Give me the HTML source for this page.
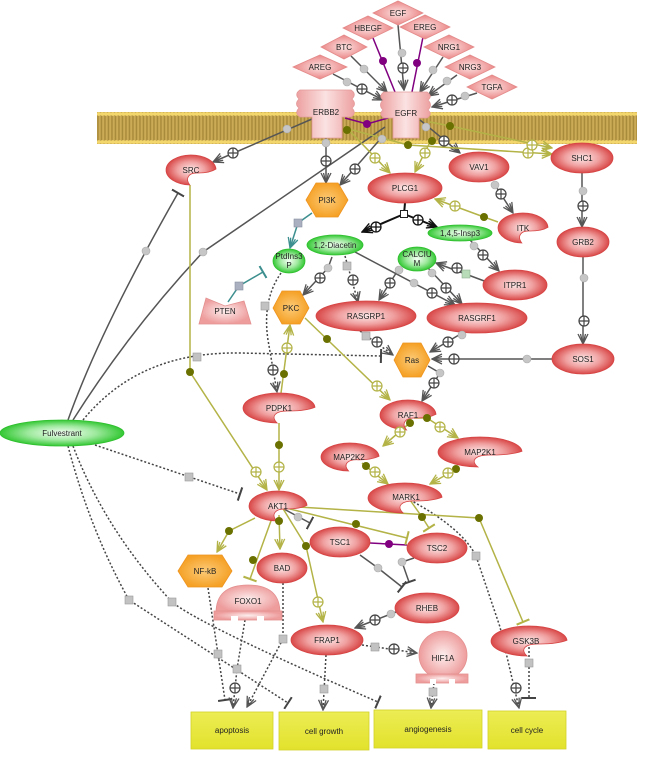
<!DOCTYPE html>
<html><head><meta charset="utf-8"><style>
html,body{margin:0;padding:0;background:#fff;}
svg{display:block;}
text{font-family:"Liberation Sans",sans-serif;font-size:8px;fill:#222;text-anchor:middle;}
</style></head><body>
<svg width="650" height="765" viewBox="0 0 650 765" xmlns="http://www.w3.org/2000/svg">
<defs>
<radialGradient id="rg"><stop offset="0" stop-color="#fde9e9"/><stop offset="0.55" stop-color="#f0a0a0"/><stop offset="1" stop-color="#d94848"/></radialGradient>
<radialGradient id="lp"><stop offset="0" stop-color="#fdeeee"/><stop offset="1" stop-color="#ee9c9c"/></radialGradient>
<radialGradient id="gg"><stop offset="0" stop-color="#f6fff6"/><stop offset="0.55" stop-color="#9ee99e"/><stop offset="1" stop-color="#34c834"/></radialGradient>
<radialGradient id="og"><stop offset="0" stop-color="#fccb78"/><stop offset="1" stop-color="#f5a126"/></radialGradient>
<radialGradient id="dg"><stop offset="0" stop-color="#fde4e4"/><stop offset="1" stop-color="#eb8787"/></radialGradient>
<linearGradient id="rc" x1="0" x2="1" y1="0" y2="0"><stop offset="0" stop-color="#eda0a0"/><stop offset="0.5" stop-color="#fbe2e2"/><stop offset="1" stop-color="#eda0a0"/></linearGradient>
<linearGradient id="yb" x1="0" x2="0" y1="0" y2="1"><stop offset="0" stop-color="#ecec55"/><stop offset="1" stop-color="#e2e22c"/></linearGradient>
<pattern id="mem" width="3.5" height="32" patternUnits="userSpaceOnUse" x="97" y="112">
<rect width="3.5" height="32" fill="#cbab55"/><rect x="0.2" y="3" width="1.5" height="26" fill="#a98b3c"/>
<circle cx="1.75" cy="2" r="1.9" fill="#f3d66c"/><circle cx="1.75" cy="30" r="1.9" fill="#f3d66c"/></pattern>
<marker id="ad" viewBox="0 0 12 12" refX="11" refY="6" markerWidth="12" markerHeight="12" markerUnits="userSpaceOnUse" orient="auto"><path d="M1,1 L11,6 L1,11 M1,3.5 L11,6 M1,8.5 L11,6" fill="none" stroke="#555" stroke-width="1.3"/></marker>
<marker id="ab" viewBox="0 0 12 12" refX="11" refY="6" markerWidth="12" markerHeight="12" markerUnits="userSpaceOnUse" orient="auto"><path d="M1,1 L11,6 L1,11 M1,3.5 L11,6 M1,8.5 L11,6" fill="none" stroke="#111" stroke-width="1.4"/></marker>
<marker id="ao" viewBox="0 0 12 12" refX="11" refY="6" markerWidth="12" markerHeight="12" markerUnits="userSpaceOnUse" orient="auto"><path d="M1,1 L11,6 L1,11 M1,3.5 L11,6 M1,8.5 L11,6" fill="none" stroke="#b3b347" stroke-width="1.3"/></marker>
<marker id="at" viewBox="0 0 12 12" refX="11" refY="6" markerWidth="12" markerHeight="12" markerUnits="userSpaceOnUse" orient="auto"><path d="M1,1 L11,6 L1,11 M1,3.5 L11,6 M1,8.5 L11,6" fill="none" stroke="#3d8f8f" stroke-width="1.3"/></marker>
<marker id="td" viewBox="0 0 4 14" refX="2" refY="7" markerWidth="4" markerHeight="14" markerUnits="userSpaceOnUse" orient="auto"><path d="M2,0 L2,14" stroke="#444" stroke-width="2"/></marker>
<marker id="to" viewBox="0 0 4 14" refX="2" refY="7" markerWidth="4" markerHeight="14" markerUnits="userSpaceOnUse" orient="auto"><path d="M2,0 L2,14" stroke="#b3b347" stroke-width="2"/></marker>
<marker id="tt" viewBox="0 0 4 14" refX="2" refY="7" markerWidth="4" markerHeight="14" markerUnits="userSpaceOnUse" orient="auto"><path d="M2,0 L2,14" stroke="#3d8f8f" stroke-width="2"/></marker>
<g id="pd"><circle r="5" fill="#fff" stroke="#444" stroke-width="1.2"/><path d="M-5,0H5M0,-5V5" stroke="#444" stroke-width="1.2"/></g>
<g id="pb"><circle r="5" fill="#fff" stroke="#111" stroke-width="1.3"/><path d="M-5,0H5M0,-5V5" stroke="#111" stroke-width="1.3"/></g>
<g id="po"><circle r="5" fill="#fff" stroke="#b3b347" stroke-width="1.2"/><path d="M-5,0H5M0,-5V5" stroke="#b3b347" stroke-width="1.2"/></g>
<circle id="gd" r="4" fill="#c6c6c6" stroke="#aaa" stroke-width="0.6"/>
<circle id="od" r="4" fill="#6b7100"/>
<circle id="pu" r="4" fill="#800080"/>
<rect id="sq" x="-4" y="-4" width="8" height="8" fill="#c2c2c2" stroke="#999" stroke-width="0.6"/>
</defs>

<!-- membrane -->
<rect x="97" y="112" width="540" height="32" fill="url(#mem)"/>

<!-- ligand edges -->
<g fill="none" stroke="#555" stroke-width="1.5">
<path d="M398,25 L404,90" marker-end="url(#ad)"/>
<path d="M351,56 L387,92" marker-end="url(#ad)"/>
<path d="M443,57 L420,92" marker-end="url(#ad)"/>
<path d="M333,74 L383,100" marker-end="url(#ad)"/>
<path d="M457,75 L428,96" marker-end="url(#ad)"/>
<path d="M477,93 L432,107" marker-end="url(#ad)"/>
</g>
<g fill="none" stroke="#800080" stroke-width="1.5">
<path d="M373,38 L395,92"/>
<path d="M423,37 L412,92"/>
<path d="M345,118 L367,124 L388,118"/>
<path d="M370,543 L407,545"/>
</g>

<!-- dark solid edges -->
<g fill="none" stroke="#555" stroke-width="1.5">
<path d="M312,119 L213,162" marker-end="url(#ad)"/>
<path d="M326,138 L326,183" marker-end="url(#ad)"/>
<path d="M383,136 L340,185" marker-end="url(#ad)"/>
<path d="M420,120 L460,153" marker-end="url(#ad)"/>
<path d="M68,420 Q100,330 178,193" marker-end="url(#td)"/>
<path d="M73,420 Q130,330 203,252 L385,127"/>
<path d="M582,173 L582,227" marker-end="url(#ad)"/>
<path d="M583,257 L583,344" marker-end="url(#ad)"/>
<path d="M553,359 L432,359" marker-end="url(#ad)"/>
<path d="M464,332 L430,352" marker-end="url(#ad)"/>
<path d="M428,366 L440,373 L422,401" marker-end="url(#ad)"/>
<path d="M493,182 L513,213" marker-end="url(#ad)"/>
<path d="M470,240 L499,271" marker-end="url(#ad)"/>
<path d="M487,282 L436,263" marker-end="url(#ad)"/>
<path d="M400,267 L379,300" marker-end="url(#ad)"/>
<path d="M428,268 L462,304" marker-end="url(#ad)"/>
<path d="M355,252 L455,305" marker-end="url(#ad)"/>
<path d="M332,257 L328,268 L303,295" marker-end="url(#ad)"/>
<path d="M282,508 L310,523" marker-end="url(#td)"/>
<path d="M360,555 L378,568 L402,587" marker-end="url(#td)"/>
<path d="M414,558 L402,562 L409,582" marker-end="url(#td)"/>
<path d="M396,612 L355,628" marker-end="url(#ad)"/>
</g>
<g fill="none" stroke="#111" stroke-width="2">
<path d="M405,203 L404,214"/>
<path d="M404,214 L362,232" marker-end="url(#ab)"/>
<path d="M404,214 L437,227" marker-end="url(#ab)"/>
</g>

<!-- teal -->
<g fill="none" stroke="#3d8f8f" stroke-width="1.5">
<path d="M312,213 L298,223 L290,248" marker-end="url(#at)"/>
<path d="M228,302 L239,286 L263,272" marker-end="url(#tt)"/>
</g>

<!-- dotted -->
<g fill="none" stroke="#444" stroke-width="1.5" stroke-dasharray="2,2">
<path d="M345,256 L358,302" marker-end="url(#ad)"/>
<path d="M360,331 L393,355" marker-end="url(#ad)"/>
<path d="M281,273 Q262,300 268,340 L277,392" marker-end="url(#ad)"/>
<path d="M83,420 C120,375 170,352 240,353 L381,356" marker-end="url(#td)"/>
<path d="M95,445 L240,494" marker-end="url(#td)"/>
<path d="M68,446 Q90,530 129,600 L288,703" marker-end="url(#td)"/>
<path d="M73,446 Q105,530 172,602 Q200,625 378,702" marker-end="url(#td)"/>
<path d="M208,588 L218,654 L225,700" marker-end="url(#td)"/>
<path d="M245,620 L237,669 L233,708" marker-end="url(#ad)"/>
<path d="M283,583 L283,639 L247,707" marker-end="url(#ad)"/>
<path d="M326,655 L323,710" marker-end="url(#ad)"/>
<path d="M362,645 L417,653" marker-end="url(#ad)"/>
<path d="M434,683 L431,708" marker-end="url(#ad)"/>
<path d="M410,500 Q462,528 476,556 L500,627 L519,708" marker-end="url(#ad)"/>
<path d="M529,643 L529,698" marker-end="url(#td)"/>
</g>

<!-- olive -->
<g fill="none" stroke="#b3b347" stroke-width="1.5">
<path d="M190,185 L190,372 L267,490" marker-end="url(#ao)"/>
<path d="M279,423 L279,490" marker-end="url(#ao)"/>
<path d="M281,393 L290,325" marker-end="url(#ao)"/>
<path d="M305,318 L390,400" marker-end="url(#ao)"/>
<path d="M345,126 L390,173" marker-end="url(#ao)"/>
<path d="M433,136 L415,172" marker-end="url(#ao)"/>
<path d="M345,128 L408,145 L552,154" marker-end="url(#ao)"/>
<path d="M430,122 L450,126 L552,148" marker-end="url(#ao)"/>
<path d="M498,222 L484,217 L435,199" marker-end="url(#ao)"/>
<path d="M412,421 L383,446" marker-end="url(#ao)"/>
<path d="M414,418 L427,418 L458,438" marker-end="url(#ao)"/>
<path d="M458,468 L430,484" marker-end="url(#ao)"/>
<path d="M362,463 L388,484" marker-end="url(#ao)"/>
<path d="M255,518 L229,531 L217,552" marker-end="url(#ao)"/>
<path d="M272,518 L250,579" marker-end="url(#to)"/>
<path d="M279,515 L280,549" marker-end="url(#ao)"/>
<path d="M282,507 L306,546 L323,622" marker-end="url(#ao)"/>
<path d="M282,507 L407,538" marker-end="url(#to)"/>
<path d="M282,506 L479,518 L523,622" marker-end="url(#to)"/>
<path d="M410,500 L422,517 L429,528" marker-end="url(#to)"/>
</g>

<!-- ligand diamonds -->
<g fill="url(#dg)" stroke="#e48a8a" stroke-width="0.8">
<polygon points="373,13 398,1 423,13 398,25"/>
<polygon points="343,28 368,16 393,28 368,40"/>
<polygon points="400,27 425,15 450,27 425,39"/>
<polygon points="321,47 344,35 367,47 344,59"/>
<polygon points="424,47 449,35 474,47 449,59"/>
<polygon points="293,67 320,55 347,67 320,79"/>
<polygon points="445,67 470,55 495,67 470,79"/>
<polygon points="467,87 492,75 517,87 492,99"/>
</g>
<text x="398" y="16">EGF</text>
<text x="368" y="31">HBEGF</text>
<text x="425" y="30">EREG</text>
<text x="344" y="50">BTC</text>
<text x="449" y="50">NRG1</text>
<text x="320" y="70">AREG</text>
<text x="470" y="70">NRG3</text>
<text x="492" y="90">TGFA</text>

<!-- receptors -->
<g fill="url(#rc)" stroke="#e49a9a" stroke-width="0.8">
<path d="M384,92 L427,92 Q433,96 428,100 Q433,105 428,110 Q433,114 427,118 L419,118 L419,138 L393,138 L393,118 L384,118 Q378,114 383,110 Q378,105 383,100 Q378,96 384,92 Z"/>
<path d="M300,90 L351,90 Q357,94 352,99 Q357,104 352,108 Q357,113 351,117 L342,117 L342,138 L312,138 L312,117 L300,117 Q294,113 299,108 Q294,104 299,99 Q294,94 300,90 Z"/>
</g>
<text x="406" y="116">EGFR</text>
<text x="326" y="115">ERBB2</text>

<!-- red ellipses -->
<g fill="url(#rg)" stroke="#d64444" stroke-width="0.8">
<ellipse cx="405" cy="188" rx="37" ry="15"/>
<ellipse cx="479" cy="167" rx="30" ry="15"/>
<ellipse cx="582" cy="158" rx="31" ry="15"/>
<ellipse cx="583" cy="242" rx="26" ry="15"/>
<ellipse cx="515" cy="285" rx="32" ry="15"/>
<ellipse cx="366" cy="316" rx="50" ry="15"/>
<ellipse cx="477" cy="318" rx="50" ry="15"/>
<ellipse cx="583" cy="359" rx="31" ry="15"/>
<ellipse cx="340" cy="542" rx="30" ry="15"/>
<ellipse cx="437" cy="548" rx="30" ry="15"/>
<ellipse cx="282" cy="568" rx="25" ry="15"/>
<ellipse cx="427" cy="608" rx="32" ry="15"/>
<ellipse cx="327" cy="640" rx="36" ry="15"/>
<!-- crescents -->
<path d="M216,169 A25 15 0 1 0 189.8,185 C184.8,178.3 188.5,172.3 198.5,173 Q209.8,173 216,169 Z"/>
<path d="M548,227.3 A25 15 0 1 0 521.8,243 C516.8,236.3 520.5,230.3 530.5,231 Q541.8,231 548,227.3 Z"/>
<path d="M436,414.3 A28 15 0 1 0 406.6,430 C401,423.3 405.2,417.3 416.4,418 Q429,418 436,414.3 Z"/>
<path d="M522,451.3 A42 15 0 1 0 477.9,467 C469.5,460.3 475.8,454.3 492.6,455 Q511.5,455 522,451.3 Z"/>
<path d="M379,456.3 A29 14 0 1 0 348.6,471 C342.8,464.7 347.1,459.1 358.7,459.8 Q371.8,459.8 379,456.3 Z"/>
<path d="M442,497.3 A37 15 0 1 0 403.2,513 C395.8,506.3 401.3,500.3 416.1,501 Q432.8,501 442,497.3 Z"/>
<path d="M315,407.3 A36 15 0 1 0 277.2,423 C270,416.3 275.4,410.3 289.8,411 Q306,411 315,407.3 Z"/>
<path d="M307,505.3 A29 15 0 1 0 276.6,521 C270.8,514.3 275.1,508.3 286.7,509 Q299.8,509 307,505.3 Z"/>
<path d="M567,640.3 A38 15 0 1 0 527.1,656 C519.5,649.3 525.2,643.3 540.4,644 Q557.5,644 567,640.3 Z"/>
</g>
<text x="405" y="191">PLCG1</text>
<text x="479" y="170">VAV1</text>
<text x="582" y="161">SHC1</text>
<text x="583" y="245">GRB2</text>
<text x="515" y="288">ITPR1</text>
<text x="366" y="319">RASGRP1</text>
<text x="477" y="321">RASGRF1</text>
<text x="583" y="362">SOS1</text>
<text x="340" y="545">TSC1</text>
<text x="437" y="551">TSC2</text>
<text x="282" y="571">BAD</text>
<text x="427" y="611">RHEB</text>
<text x="327" y="643">FRAP1</text>
<text x="191" y="173">SRC</text>
<text x="523" y="231">ITK</text>
<text x="408" y="418">RAF1</text>
<text x="480" y="455">MAP2K1</text>
<text x="349" y="460">MAP2K2</text>
<text x="406" y="500">MARK1</text>
<text x="279" y="411">PDPK1</text>
<text x="278" y="509">AKT1</text>
<text x="526" y="644">GSK3B</text>

<!-- light pink special shapes -->
<g fill="url(#lp)" stroke="#e39090" stroke-width="0.8">
<polygon points="199,324 206,298 225,306 244,301 251,324"/>
<path d="M216,613 Q216,585 248,585 Q280,585 280,613 Z"/>
<rect x="214" y="611" width="68" height="9"/>
<circle cx="443" cy="655" r="24"/>
<rect x="416" y="674" width="52" height="9"/>
</g>
<g fill="#fff">
<rect x="231" y="616" width="7" height="5"/><rect x="257" y="616" width="7" height="5"/>
<rect x="430" y="679" width="6" height="5"/><rect x="449" y="679" width="6" height="5"/>
</g>
<text x="225" y="314">PTEN</text>
<text x="248" y="604">FOXO1</text>
<text x="443" y="661">HIF1A</text>

<!-- green -->
<g fill="url(#gg)" stroke="#2fbf2f" stroke-width="0.8">
<ellipse cx="289" cy="261" rx="16" ry="12"/>
<ellipse cx="335" cy="245" rx="28" ry="10"/>
<ellipse cx="460" cy="233" rx="32" ry="8"/>
<ellipse cx="417" cy="259" rx="19" ry="12"/>
<ellipse cx="62" cy="433" rx="62" ry="13"/>
</g>
<text x="289" y="259">PtdIns3</text>
<text x="289" y="268">P</text>
<text x="335" y="248">1,2-Diacetin</text>
<text x="460" y="236">1,4,5-Insp3</text>
<text x="417" y="257">CALCIU</text>
<text x="417" y="266">M</text>
<text x="62" y="436">Fulvestrant</text>

<!-- hexagons -->
<g fill="url(#og)" stroke="#ee9420" stroke-width="0.8">
<polygon points="306,200 316,183 338,183 348,200 338,217 316,217"/>
<polygon points="273,308 282,291 300,291 309,308 300,324 282,324"/>
<polygon points="394,360 403,343 421,343 430,360 421,377 403,377"/>
<polygon points="178,571 188,555 222,555 232,571 222,587 188,587"/>
</g>
<text x="327" y="203">PI3K</text>
<text x="291" y="311">PKC</text>
<text x="412" y="363">Ras</text>
<text x="205" y="574">NF-kB</text>

<!-- bottom boxes -->
<g fill="url(#yb)" stroke="#d2d228" stroke-width="0.8">
<rect x="191" y="712" width="82" height="37"/>
<rect x="279" y="712" width="90" height="38"/>
<rect x="374" y="710" width="108" height="38"/>
<rect x="488" y="711" width="78" height="38"/>
</g>
<text x="232" y="733">apoptosis</text>
<text x="324" y="734">cell growth</text>
<text x="428" y="732">angiogenesis</text>
<text x="527" y="733">cell cycle</text>

<!-- decorations: gray dots -->
<use href="#gd" x="402" y="53"/><use href="#gd" x="364" y="69"/><use href="#gd" x="433" y="70"/>
<use href="#gd" x="347" y="82"/><use href="#gd" x="447" y="81"/><use href="#gd" x="465" y="96"/>
<use href="#gd" x="287" y="129"/><use href="#gd" x="326" y="143"/><use href="#gd" x="382" y="139"/>
<use href="#gd" x="426" y="127"/><use href="#gd" x="146" y="251"/><use href="#gd" x="203" y="252"/>
<use href="#gd" x="583" y="191"/><use href="#gd" x="584" y="278"/><use href="#gd" x="527" y="359"/>
<use href="#gd" x="462" y="335"/><use href="#gd" x="440" y="373"/><use href="#gd" x="495" y="185"/>
<use href="#gd" x="474" y="246"/><use href="#gd" x="399" y="270"/><use href="#gd" x="432" y="273"/>
<use href="#gd" x="414" y="283"/><use href="#gd" x="328" y="268"/><use href="#gd" x="298" y="517"/>
<use href="#gd" x="378" y="568"/><use href="#gd" x="402" y="562"/><use href="#gd" x="391" y="614"/>
<!-- dark plus -->
<use href="#pd" x="403" y="68"/><use href="#pd" x="362" y="89"/><use href="#pd" x="452" y="100"/>
<use href="#pd" x="233" y="153"/><use href="#pd" x="326" y="161"/><use href="#pd" x="355" y="169"/>
<use href="#pd" x="444" y="141"/><use href="#pd" x="583" y="206"/><use href="#pd" x="584" y="321"/>
<use href="#pd" x="454" y="359"/><use href="#pd" x="448" y="342"/><use href="#pd" x="434" y="383"/>
<use href="#pd" x="501" y="194"/><use href="#pd" x="483" y="255"/><use href="#pd" x="457" y="268"/>
<use href="#pd" x="390" y="283"/><use href="#pd" x="446" y="288"/><use href="#pd" x="432" y="293"/>
<use href="#pd" x="320" y="278"/><use href="#pd" x="375" y="620"/>
<use href="#pd" x="353" y="280"/><use href="#pd" x="377" y="342"/><use href="#pd" x="273" y="370"/>
<use href="#pd" x="235" y="688"/><use href="#pd" x="394" y="649"/><use href="#pd" x="516" y="688"/>
<use href="#pb" x="376" y="227"/><use href="#pb" x="418" y="220"/>
<rect x="400.5" y="210.5" width="7" height="7" fill="#fff" stroke="#222" stroke-width="1"/>
<!-- squares -->
<use href="#sq" x="347" y="266"/><use href="#sq" x="366" y="336"/><use href="#sq" x="265" y="306"/>
<use href="#sq" x="197" y="357"/><use href="#sq" x="189" y="477"/><use href="#sq" x="129" y="600"/>
<use href="#sq" x="172" y="602"/><use href="#sq" x="218" y="654"/><use href="#sq" x="237" y="669"/>
<use href="#sq" x="283" y="639"/><use href="#sq" x="324" y="689"/><use href="#sq" x="375" y="647"/>
<use href="#sq" x="433" y="692"/><use href="#sq" x="476" y="556"/><use href="#sq" x="529" y="663"/>
<rect x="294" y="219" width="8" height="8" fill="#aab0c0" stroke="#8890a0" stroke-width="0.6"/>
<rect x="235" y="282" width="8" height="8" fill="#aab0c0" stroke="#8890a0" stroke-width="0.6"/>
<rect x="462" y="270" width="8" height="8" fill="#b8dcb8" stroke="#90b090" stroke-width="0.6"/>
<!-- purple dots -->
<use href="#pu" x="383" y="61"/><use href="#pu" x="417" y="63"/><use href="#pu" x="367" y="124"/><use href="#pu" x="389" y="544"/>
<!-- olive dots -->
<use href="#od" x="347" y="130"/><use href="#od" x="408" y="145"/><use href="#od" x="432" y="141"/><use href="#od" x="450" y="126"/>
<use href="#od" x="484" y="217"/><use href="#od" x="190" y="372"/><use href="#od" x="279" y="445"/><use href="#od" x="284" y="374"/>
<use href="#od" x="327" y="339"/><use href="#od" x="410" y="423"/><use href="#od" x="427" y="418"/><use href="#od" x="456" y="469"/>
<use href="#od" x="366" y="466"/><use href="#od" x="229" y="531"/><use href="#od" x="253" y="560"/><use href="#od" x="279" y="521"/>
<use href="#od" x="306" y="546"/><use href="#od" x="356" y="524"/><use href="#od" x="479" y="518"/><use href="#od" x="422" y="517"/>
<!-- olive plus -->
<use href="#po" x="375" y="158"/><use href="#po" x="425" y="153"/><use href="#po" x="528" y="153"/><use href="#po" x="532" y="145"/>
<use href="#po" x="455" y="206"/><use href="#po" x="256" y="472"/><use href="#po" x="279" y="467"/><use href="#po" x="287" y="348"/>
<use href="#po" x="377" y="386"/><use href="#po" x="400" y="432"/><use href="#po" x="440" y="427"/><use href="#po" x="448" y="473"/>
<use href="#po" x="375" y="472"/><use href="#po" x="318" y="602"/>
</svg>
</body></html>
